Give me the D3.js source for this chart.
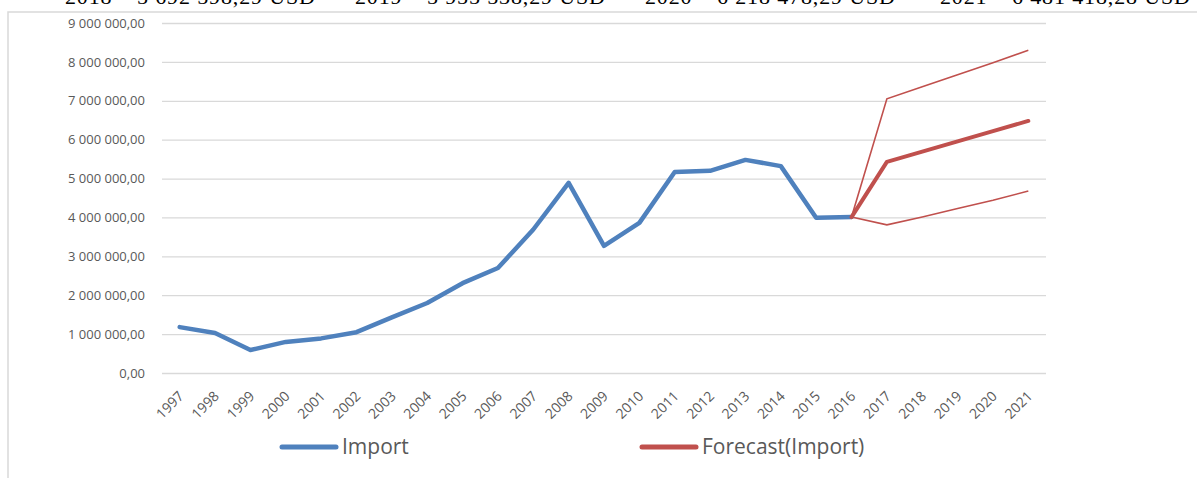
<!DOCTYPE html>
<html>
<head>
<meta charset="utf-8">
<script src="https://cdn.jsdelivr.net/npm/d3@7"></script>
<style>
  html, body { margin: 0; padding: 0; background: #fff; }
  svg { display: block; }
</style>
</head>
<body>
<svg id="chart" width="1197" height="478"></svg>
<script>
// ---- data ----
const years = ["1997","1998","1999","2000","2001","2002","2003","2004","2005","2006","2007","2008","2009","2010","2011","2012","2013","2014","2015","2016","2017","2018","2019","2020","2021"];
const importYears = years.slice(0, 20);
const importValues = [1180000, 1030000, 590000, 800000, 890000, 1050000, 1430000, 1800000, 2310000, 2700000, 3690000, 4890000, 3270000, 3860000, 5170000, 5200000, 5480000, 5320000, 3990000, 4010000];
const forecastYears = ["2016","2017","2018","2019","2020","2021"];
const forecastValues = [4010000, 5429658, 5692598, 5955538, 6218478, 6481418];
const upperValues = [4010000, 7050000, 7360000, 7670000, 7980000, 8300000];
const lowerValues = [4010000, 3810000, 4010000, 4230000, 4440000, 4680000];
const yTicks = [0, 1000000, 2000000, 3000000, 4000000, 5000000, 6000000, 7000000, 8000000, 9000000];
const headerGroups = ["2018 – 5 692 598,29 USD", "2019 – 5 955 538,29 USD", "2020 – 6 218 478,29 USD", "2021 – 6 481 418,28 USD"];
const legendLabels = ["Import", "Forecast(Import)"];

// ---- setup ----
const svg = d3.select("#chart");
const plotL = 162, plotR = 1046, plotT = 23, plotB = 373;
const x = d3.scaleBand().domain(years).range([plotL, plotR]);
const cx = d => x(d) + x.bandwidth() / 2;
const y = d3.scaleLinear().domain([0, 9000000]).range([plotB, plotT]);
const loc = d3.formatLocale({decimal: ",", thousands: " ", grouping: [3], currency: ["", ""]});
const fmt = loc.format(",.2f");

// header text (cut off at top)
const headerX = [65, 355, 645, 940];
svg.selectAll("text.hdr").data(headerGroups).join("text")
  .attr("class", "hdr")
  .attr("x", (d, i) => headerX[i]).attr("y", 4)
  .attr("font-family", "Liberation Serif, Times New Roman, serif")
  .attr("font-size", 22).attr("fill", "#000")
  .attr("textLength", 250).attr("lengthAdjust", "spacing")
  .text(d => d);

// frame
svg.append("path")
  .attr("d", "M8,478 L8,12 L1197,12")
  .attr("fill", "none").attr("stroke", "#d9d9d9").attr("stroke-width", 1.5);

// y axis with gridlines
const yAxis = svg.append("g").attr("transform", `translate(${plotL},0)`)
  .call(d3.axisLeft(y).tickValues(yTicks).tickSize(-(plotR - plotL)).tickPadding(17).tickFormat(fmt));
yAxis.select(".domain").remove();
yAxis.selectAll(".tick line").attr("stroke", "#d9d9d9").attr("stroke-width", 1.3);
yAxis.selectAll(".tick text").attr("fill", "#595959").attr("font-family", "Open Sans, sans-serif").attr("font-size", 13);

// x axis labels
const xAxis = svg.append("g").attr("transform", `translate(0,${plotB})`)
  .call(d3.axisBottom(x).tickSize(0));
xAxis.select(".domain").remove();
xAxis.selectAll(".tick text")
  .attr("fill", "#595959").attr("font-family", "Open Sans, sans-serif").attr("font-size", 14)
  .attr("text-anchor", "end")
  .attr("x", 0).attr("y", 0).attr("dy", 0)
  .attr("transform", "translate(5,24) rotate(-45)");

// lines
const line = d3.line().x(d => cx(d[0])).y(d => y(d[1]));
svg.append("path").datum(d3.zip(forecastYears, upperValues))
  .attr("d", line).attr("fill", "none").attr("stroke", "#c0504d").attr("stroke-width", 1.6);
svg.append("path").datum(d3.zip(forecastYears, lowerValues))
  .attr("d", line).attr("fill", "none").attr("stroke", "#c0504d").attr("stroke-width", 1.6);
svg.append("path").datum(d3.zip(importYears, importValues))
  .attr("d", line).attr("fill", "none").attr("stroke", "#4f81bd").attr("stroke-width", 4.5)
  .attr("stroke-linejoin", "round").attr("stroke-linecap", "round");
svg.append("path").datum(d3.zip(forecastYears, forecastValues))
  .attr("d", line).attr("fill", "none").attr("stroke", "#c0504d").attr("stroke-width", 4)
  .attr("stroke-linejoin", "round").attr("stroke-linecap", "round");

// legend
const legendColors = ["#4f81bd", "#c0504d"];
const legendX = [282, 642];
const lg = svg.selectAll("g.leg").data(legendLabels).join("g")
  .attr("class", "leg").attr("transform", (d, i) => `translate(${legendX[i]},447)`);
lg.append("line").attr("x1", 0).attr("x2", 54).attr("y1", 0).attr("y2", 0)
  .attr("stroke", (d, i) => legendColors[i]).attr("stroke-width", 5).attr("stroke-linecap", "round");
lg.append("text").attr("x", 60).attr("y", 7)
  .attr("font-family", "Open Sans, sans-serif").attr("font-size", 21).attr("fill", "#595959")
  .text(d => d);
</script>
</body>
</html>
